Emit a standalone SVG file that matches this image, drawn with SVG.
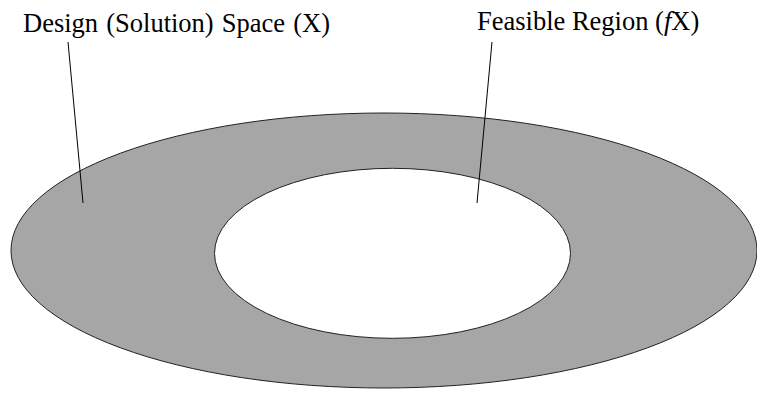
<svg xmlns="http://www.w3.org/2000/svg" width="757" height="394" viewBox="0 0 757 394">
<style>
.shape{stroke:#222;stroke-width:1}
.lbl{font-family:"Liberation Serif","Times New Roman",serif;font-size:26.5px;fill:#000}
.conn{stroke:#000;stroke-width:1;fill:none}
</style>
<rect width="757" height="394" fill="#fff"/>
<g id="design-space">
<ellipse class="shape" cx="384" cy="250.5" rx="373" ry="137.5" fill="#a6a6a6"/>
<text class="lbl" x="23" y="32" word-spacing="1.5">Design (Solution) Space (X)</text>
</g>
<g id="feasible-region">
<ellipse class="shape" cx="392.5" cy="253.3" rx="178" ry="85" fill="#fff"/>
<text class="lbl" x="477" y="30">Feasible Region (<tspan font-style="italic">f</tspan>X)</text>
</g>
<g id="connectors">
<line class="conn" x1="68" y1="42" x2="83" y2="203"/>
<line class="conn" x1="492" y1="42" x2="477" y2="203"/>
</g>
</svg>
